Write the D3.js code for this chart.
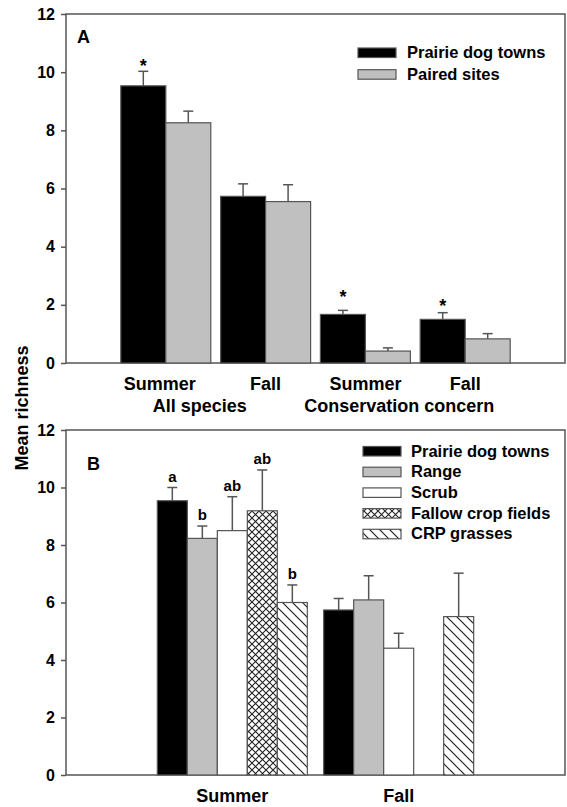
<!doctype html>
<meta charset="utf-8">
<style>
body { margin: 0; background: #fff; }
text { font-family: "Liberation Sans", Arial, sans-serif; font-weight: bold; fill: #000; }
</style>
<script src="https://cdn.jsdelivr.net/npm/d3@7"></script>
<body>
<script>

// panel A data
var aGroups = ["Summer", "Fall", "Summer", "Fall"];
var aSuper = ["All species", "Conservation concern"];
var aSeries = ["Prairie dog towns", "Paired sites"];
var aMeans = [[9.53, 5.73, 1.67, 1.50], [8.26, 5.55, 0.41, 0.83]];
var aUpper = [[10.03, 6.16, 1.81, 1.73], [8.66, 6.13, 0.52, 1.01]];
var aStars = [10.36, null, 2.39, 2.10];   // level of the * above the black bars

// panel B data
var bGroups = ["Summer", "Fall"];
var bSeries = ["Prairie dog towns", "Range", "Scrub", "Fallow crop fields", "CRP grasses"];
var bMeans = [[9.54, 5.74], [8.23, 6.09], [8.50, 4.41], [9.19, null], [6.00, 5.51]];
var bUpper = [[10.00, 6.14], [8.66, 6.93], [9.68, 4.93], [10.61, null], [6.61, 7.02]];
var bLetters = [["a", ""], ["b", ""], ["ab", ""], ["ab", ""], ["b", ""]];

var yTicks = [0, 2, 4, 6, 8, 10, 12];

var w = 567, h = 807;
var left = 66, right = 565;
var lineCol = "#555";

var svg = d3.select("body").append("svg")
    .attr("width", w)
    .attr("height", h);

var defs = svg.append("defs");

var cross = defs.append("pattern")
    .attr("id", "cross")
    .attr("patternUnits", "userSpaceOnUse")
    .attr("width", 7).attr("height", 7);
cross.append("rect").attr("width", 7).attr("height", 7).attr("fill", "#fff");
cross.append("path")
    .attr("d", "M0,0L7,7M7,0L0,7")
    .attr("stroke", "#222").attr("stroke-width", 1.1);

var hatch = defs.append("pattern")
    .attr("id", "hatch")
    .attr("patternUnits", "userSpaceOnUse")
    .attr("width", 10).attr("height", 10);
hatch.append("rect").attr("width", 10).attr("height", 10).attr("fill", "#fff");
hatch.append("path")
    .attr("d", "M-1,-1L11,11M-1,9L1,11M9,-1L11,1")
    .attr("stroke", "#222").attr("stroke-width", 1.2);

var aFills = ["#000", "#c0c0c0"];
var bFills = ["#000", "#c0c0c0", "#fff", "url(#cross)", "url(#hatch)"];

function frame(y, top, bottom) {
  svg.append("rect")
      .attr("x", left).attr("y", top)
      .attr("width", right - left).attr("height", bottom - top)
      .attr("fill", "none")
      .attr("stroke", lineCol).attr("stroke-width", 1.5);
  var ax = svg.append("g")
      .attr("transform", "translate(" + left + ",0)")
      .call(d3.axisLeft(y).tickValues(yTicks).tickSize(5).tickPadding(6));
  ax.select(".domain").remove();
  ax.selectAll("line").attr("stroke", lineCol).attr("stroke-width", 1.5);
  ax.selectAll("text")
      .style("font-size", "16px")
      .style("font-family", "'Liberation Sans', Arial, sans-serif")
      .style("font-weight", "bold")
      .attr("fill", "#000");
}

function bars(groups, series, means, upper, fills, x, y, bw) {
  var inner = d3.scaleBand().domain(series).range([-bw * series.length / 2, bw * series.length / 2]);
  series.forEach(function(s, si) {
    groups.forEach(function(g, gi) {
      var v = means[si][gi];
      if (v == null) return;
      var x0 = x(gi + 1) + inner(s);
      var cx = x0 + bw / 2;
      var u = upper[si][gi];
      svg.append("line")
          .attr("x1", cx).attr("x2", cx)
          .attr("y1", y(v)).attr("y2", y(u))
          .attr("stroke", lineCol).attr("stroke-width", 1.5);
      svg.append("line")
          .attr("x1", cx - 5).attr("x2", cx + 5)
          .attr("y1", y(u)).attr("y2", y(u))
          .attr("stroke", lineCol).attr("stroke-width", 1.5);
      svg.append("rect")
          .attr("x", x0).attr("y", y(v))
          .attr("width", bw).attr("height", y(0) - y(v))
          .attr("fill", fills[si])
          .attr("stroke", lineCol).attr("stroke-width", 1.2);
    });
  });
  return inner;
}

function legend(series, fills, rx, tx, y0, dy) {
  series.forEach(function(s, i) {
    var by = y0 + i * dy;
    svg.append("rect")
        .attr("x", rx).attr("y", by - 10)
        .attr("width", 38).attr("height", 9.5)
        .attr("fill", fills[i])
        .attr("stroke", lineCol).attr("stroke-width", 1.2);
    svg.append("text")
        .attr("x", tx).attr("y", by)
        .style("font-size", "16.5px")
        .text(s);
  });
}

// ---- panel A ----
var yA = d3.scaleLinear().domain([0, 12]).range([363, 14]);
var xA = d3.scaleLinear().domain([0, 5]).range([left, right]);

frame(yA, 14, 363);
var innerA = bars(aGroups, aSeries, aMeans, aUpper, aFills, xA, yA, 45);

aStars.forEach(function(v, gi) {
  if (v == null) return;
  svg.append("text")
      .attr("x", xA(gi + 1) + innerA(aSeries[0]) + 22.5)
      .attr("y", yA(v) + 10)
      .attr("text-anchor", "middle")
      .style("font-size", "18px")
      .text("*");
});

aGroups.forEach(function(g, gi) {
  svg.append("text")
      .attr("x", xA(gi + 1) - (gi === 0 ? 6 : 0))
      .attr("y", 389.5)
      .attr("text-anchor", "middle")
      .style("font-size", "18px")
      .text(g);
});
aSuper.forEach(function(g, i) {
  svg.append("text")
      .attr("x", (xA(2 * i + 1) + xA(2 * i + 2)) / 2 - 16)
      .attr("y", 412)
      .attr("text-anchor", "middle")
      .style("font-size", "18px")
      .text(g);
});

svg.append("text").attr("x", 77).attr("y", 43).style("font-size", "18px").text("A");
legend(aSeries, aFills, 358, 407, 58, 21.7);

// ---- panel B ----
var yB = d3.scaleLinear().domain([0, 12]).range([775, 430]);
var xB = d3.scaleLinear().domain([0, 3]).range([left, right]);

frame(yB, 430, 775);
var innerB = bars(bGroups, bSeries, bMeans, bUpper, bFills, xB, yB, 30);

bSeries.forEach(function(s, si) {
  bGroups.forEach(function(g, gi) {
    var t = bLetters[si][gi];
    if (!t) return;
    svg.append("text")
        .attr("x", xB(gi + 1) + innerB(s) + 15)
        .attr("y", yB(bUpper[si][gi]) - 6)
        .attr("text-anchor", "middle")
        .style("font-size", "15px")
        .text(t);
  });
});

bGroups.forEach(function(g, gi) {
  svg.append("text")
      .attr("x", xB(gi + 1))
      .attr("y", 801.5)
      .attr("text-anchor", "middle")
      .style("font-size", "18px")
      .text(g);
});

svg.append("text").attr("x", 87).attr("y", 470).style("font-size", "18px").text("B");
legend(bSeries, bFills, 363, 411, 456.5, 20.7);

// shared y title
svg.append("text")
    .attr("transform", "translate(28,408) rotate(-90)")
    .attr("text-anchor", "middle")
    .style("font-size", "18px")
    .text("Mean richness");

</script>
